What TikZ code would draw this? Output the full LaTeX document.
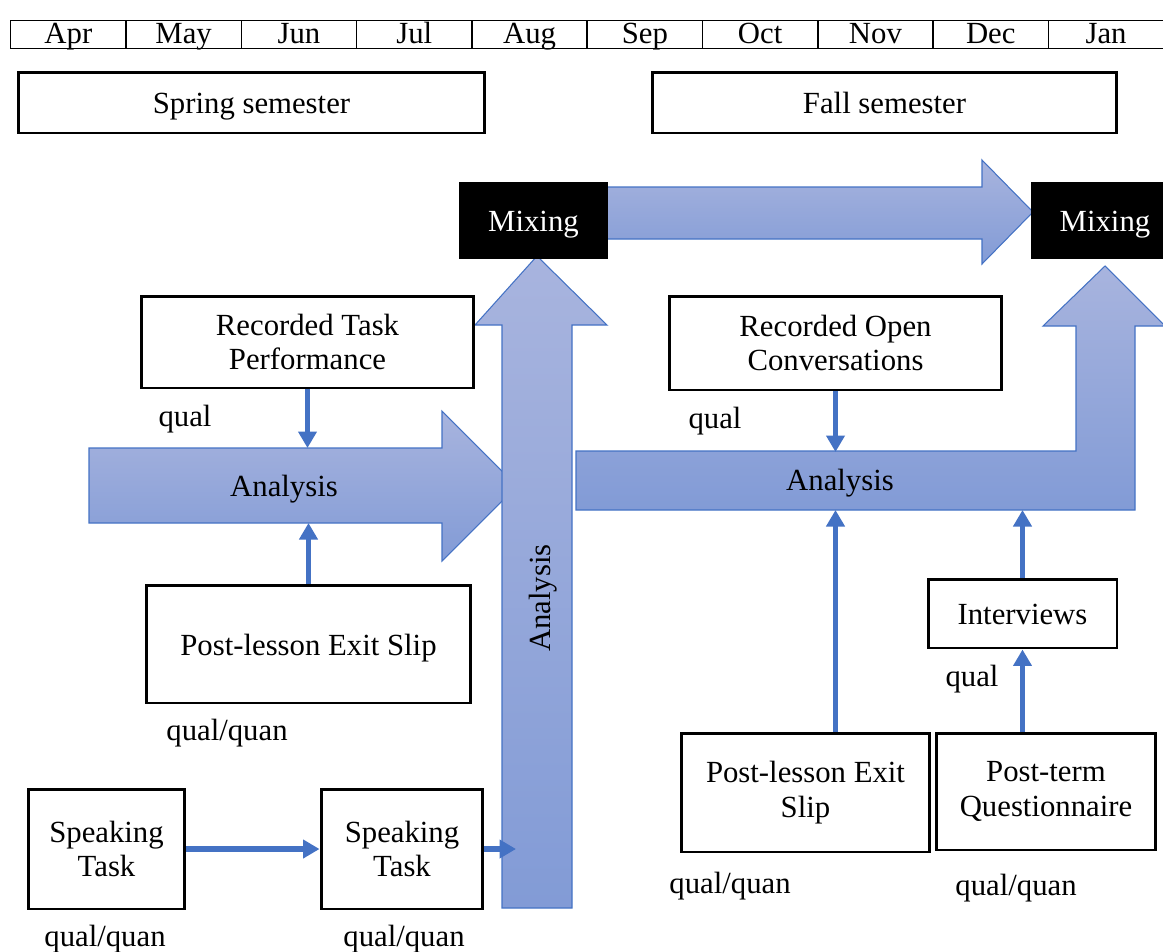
\documentclass[tikz,border=0pt]{standalone}
\usepackage{fontspec}
\setmainfont{Liberation Serif}
\usetikzlibrary{arrows.meta,positioning}
\definecolor{flowblue}{HTML}{4472C4}
\definecolor{shadetop}{RGB}{168,180,222}
\definecolor{shadebot}{RGB}{130,155,214}
\tikzset{
>={Triangle[length=0.33cm,width=0.36cm]},
  every node/.style={font=\fontsize{17.5}{19.5}\selectfont},
  month/.style={
    draw, line width=0.8pt,
    minimum width=2.306cm,
    minimum height=0.56cm,
    text height=0.46cm, text depth=0.1cm,
    inner sep=0pt,
    anchor=north west},
  box/.style={
    draw=black, line width=1.7pt,
    align=center,
    inner sep=0pt},
  oneline/.style={text height=15pt, text depth=2pt},
  mixbox/.style={
    oneline,
    fill=black, text=white,
    inner sep=0pt,
    minimum width=2.98cm,
    minimum height=1.54cm},
  bigarrow/.style={
    draw=flowblue, line width=0.6pt,
    top color=shadetop,
    bottom color=shadebot},
  flow/.style={draw=flowblue, line width=3pt, ->},
  tag/.style={oneline, inner sep=0pt},
}

\begin{document}
\begin{tikzpicture}[x=0.02cm, y=-0.02cm]
  \useasboundingbox (0,0) rectangle (1163,951);

  % months
  \foreach \m [count=\i from 0] in {Apr,May,Jun,Jul,Aug,Sep,Oct,Nov,Dec,Jan}
    \node[month] (mon\i) at (10+115.3*\i,20) {\m};

  \node[box, oneline, minimum width=9.34cm, minimum height=1.22cm] (spring) at (251.5,102.5) {Spring semester};
  \node[box, oneline, minimum width=9.3cm, minimum height=1.22cm] (fall) at (884.5,102.5) {Fall semester};

  % big arrows
  \path[bigarrow] (89,448) -- (442,448) -- (442,411) -- (517,486) -- (442,561)
    -- (442,523) -- (89,523) -- cycle;
  \path[bigarrow] (502,908) -- (502,325) -- (475,325) -- (537,256) -- (607,325)
    -- (572,325) -- (572,908) -- cycle;
  \path[bigarrow] (606,187) -- (982,187) -- (982,160) -- (1033,212) -- (982,264)
    -- (982,239) -- (606,239) -- cycle;
  \path[bigarrow] (576,451) -- (1076,451) -- (1076,326) -- (1043,326) -- (1105,266)
    -- (1165,326) -- (1135,326) -- (1135,510) -- (576,510) -- cycle;

  \node[tag] (anaL) at (284,485) {Analysis};
  \node[tag, rotate=90] (anaV) at (539,598) {Analysis};
  \node[tag] (anaR) at (840,479) {Analysis};

  \coordinate (lbartop) at (0,448);
  \coordinate (lbarbot) at (0,523);
  \coordinate (rbartop) at (0,452);
  \coordinate (rbarbot) at (0,510);
  \coordinate (vin) at (516,849);

  \node[mixbox] (mixL) at (533.5,220.5) {Mixing};
  \node[mixbox] (mixR) at (1105,220.5) {Mixing};

  % spring side
  \node[box, minimum width=6.66cm, minimum height=1.84cm] (rtp) at (307.5,342)
    {Recorded Task\\Performance};
  \node[box, oneline, minimum width=6.5cm, minimum height=2.36cm] (ples1) at (308.5,644)
    {Post-lesson Exit Slip};
  \node[box, minimum width=3.14cm, minimum height=2.4cm] (st1) at (106.5,849)
    {Speaking\\Task};
  \node[box, minimum width=3.24cm, minimum height=2.4cm] (st2) at (402,849)
    {Speaking\\Task};

  \node[tag] (q1) at (185,415) {qual};
  \node[tag] (q2) at (227,729) {qual/quan};
  \node[tag] (q3) at (105,935) {qual/quan};
  \node[tag] (q4) at (404,935) {qual/quan};

  % fall side
  \node[box, minimum width=6.66cm, minimum height=1.88cm] (roc) at (835.5,343)
    {Recorded Open\\Conversations};
  \node[box, minimum width=4.98cm, minimum height=2.38cm] (ples2) at (805.5,792.5)
    {Post-lesson Exit\\Slip};
  \node[box, minimum width=4.4cm, minimum height=2.34cm] (ptq) at (1046,791.5)
    {Post-term\\Questionnaire};
  \node[box, oneline, minimum width=3.78cm, minimum height=1.38cm] (intv) at (1022.5,613.5)
    {Interviews};

  \node[tag] (q5) at (715,417) {qual};
  \node[tag] (q6) at (972,675) {qual};
  \node[tag] (q7) at (730,882) {qual/quan};
  \node[tag] (q8) at (1016,884) {qual/quan};

  % connectors
  \draw[flow] (rtp.south) -- (rtp.south |- lbartop);
  \draw[flow] (ples1.north) -- (ples1.north |- lbarbot);
  \draw[flow] (st1.east) -- (st2.west);
  \draw[flow] (st2.east) -- (vin);
  \draw[flow] (roc.south) -- (roc.south |- rbartop);
  \draw[flow] (ples2.north -| roc.south) -- (roc.south |- rbarbot);
  \draw[flow] (intv.north) -- (intv.north |- rbarbot);
  \draw[flow] (ptq.north -| intv.south) -- (intv.south);
\end{tikzpicture}
\end{document}
